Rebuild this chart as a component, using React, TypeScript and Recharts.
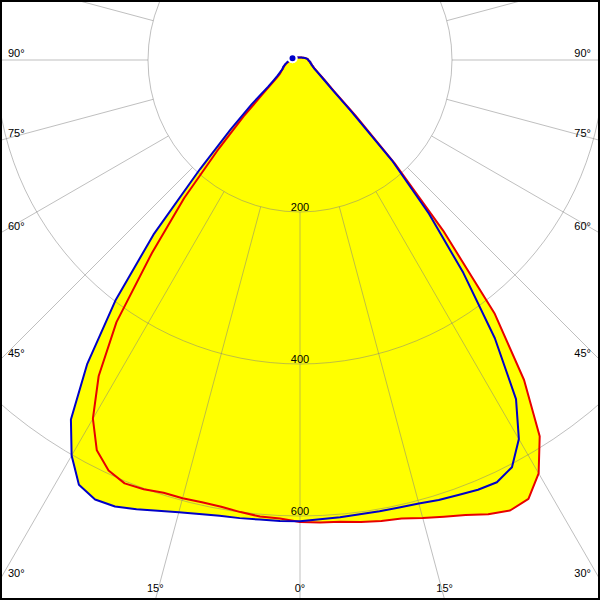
import { RadarChart, Radar, PolarGrid, PolarAngleAxis, PolarRadiusAxis } from 'recharts';

// angle from the downward vertical, read on each half of the diagram (0..180)
const sideAngles = [
	0, 2.5, 5, 7.5, 10, 12.5, 15, 17.5, 20, 22.5, 25, 27.5, 30, 32.5, 35, 37.5, 40, 42.5, 45, 47.5,
	50, 52.5, 55, 57.5, 60, 62.5, 65, 67.5, 70, 72.5, 75, 77.5, 80, 82.5, 85, 87.5, 90,
	92.5, 95, 97.5, 100, 102.5, 105, 107.5, 110, 112.5, 115, 117.5, 120, 122.5, 125, 127.5, 130, 132.5,
	135, 137.5, 140, 142.5, 145, 147.5, 150, 152.5, 155, 157.5, 160, 162.5, 165, 167.5, 170, 172.5,
	175, 177.5, 180,
];

// candela values, 0..90 degrees
const blueLeftLow = [
	607, 607, 607, 608, 609, 612, 616, 622, 629, 636, 638, 630, 601, 561, 488, 399, 300, 195, 129, 86,
	55, 43, 36, 32, 29, 26, 25, 24, 22, 21, 20, 18, 17, 16, 14, 14, 13,
];
const blueRightLow = [
	607, 605, 604, 603, 603, 603, 604, 607, 609, 612, 613, 604, 576, 529, 447, 353, 264, 179, 95, 58,
	43, 34, 28, 24, 21, 19, 18, 16, 16, 15, 14, 14, 13, 13, 12, 11, 11,
];
const redLeftLow = [
	608, 604, 603, 600, 597, 596, 597, 597, 601, 603, 596, 579, 545, 493, 421, 320, 237, 158, 105, 68,
	49, 39, 33, 30, 28, 26, 24, 23, 22, 20, 19, 18, 16, 15, 14, 14, 13,
];
const redRightLow = [
	608, 609, 610, 613, 616, 618, 624, 630, 637, 647, 654, 651, 628, 587, 514, 421, 293, 184, 103, 61,
	45, 36, 29, 25, 22, 20, 18, 17, 16, 15, 14, 14, 13, 12, 12, 11, 11,
];
// the small rounded tip above the horizontal, 92.5..180 degrees
const tipLeft = [
	13, 12.5, 11.7, 10.9, 10.1, 9.3, 8.6, 7.9, 7.4, 6.9, 6.4, 6.0, 5.7, 5.4, 5.1, 4.9, 4.7, 4.5,
	4.4, 4.2, 4.1, 4.0, 3.9, 3.8, 3.7, 3.6, 3.6, 3.5, 3.5, 3.4, 3.4, 3.4, 3.3, 3.3, 3.3, 3.3,
];
const tipRight = [
	10.8, 10.4, 9.9, 9.4, 8.8, 8.3, 7.8, 7.3, 6.9, 6.5, 6.1, 5.8, 5.5, 5.2, 5.0, 4.8, 4.6, 4.4,
	4.3, 4.1, 4.0, 3.9, 3.8, 3.7, 3.6, 3.6, 3.5, 3.5, 3.4, 3.4, 3.4, 3.3, 3.3, 3.3, 3.3, 3.3,
];

const radiusTicks = [200, 400, 600];
const angleLabels = [0, 15, 30, 45, 60, 75, 90];
const gridAngles = [0, 15, 30, 45, 60, 75, 90, 105, 120, 135, 150, 165, 180, 195, 210, 225, 240, 255, 270, 285, 300, 315, 330, 345];

const W = 600;
const H = 600;
const CX = 300;
const CY = 60;
const MAX_VALUE = 800;
const OUTER = 608;
const PX = OUTER / MAX_VALUE;
const FONT = '"Liberation Sans", Arial, sans-serif';

const blueLeft = [...blueLeftLow, ...tipLeft];
const blueRight = [...blueRightLow, ...tipRight];
const redLeft = [...redLeftLow, ...tipLeft];
const redRight = [...redRightLow, ...tipRight];

// gamma runs clockwise from the bottom: left half 0..180, right half 182.5..357.5
const data = [
	...sideAngles.map((a, i) => ({ angle: a, yellow: blueLeft[i], red: redLeft[i], blue: blueLeft[i] })),
	...sideAngles
		.map((a, i) => ({ angle: 360 - a, yellow: redRight[i], red: redRight[i], blue: blueRight[i] }))
		.slice(1, -1)
		.reverse(),
];

const chartProps = {
	width: W,
	height: H,
	data,
	cx: CX,
	cy: CY,
	startAngle: -90,
	endAngle: -450,
	margin: { top: 0, right: 0, bottom: 0, left: 0 },
};

function AngleTick(props: any) {
	const g = Number(props.payload?.value);
	const theta = g <= 180 ? g : 360 - g;
	if (!angleLabels.includes(theta)) return null;
	const side = g <= 180 ? -1 : 1;
	const rad = (theta * Math.PI) / 180;
	const s = Math.sin(rad);
	const c = Math.cos(rad);
	const toSide = s > 1e-6 ? CX / s : Infinity;
	const toBottom = c > 1e-6 ? (H - CY) / c : Infinity;
	let x: number;
	let y: number;
	let anchor: 'start' | 'end' | 'middle';
	if (toSide < toBottom) {
		x = side < 0 ? 8 : W - 9;
		y = CY + toSide * c - 3;
		anchor = side < 0 ? 'start' : 'end';
	} else {
		x = CX + side * toBottom * s;
		y = H - 8;
		anchor = 'middle';
	}
	return (
		<text x={x} y={y} textAnchor={anchor} fontSize={11} fontFamily={FONT} fill="#000">
			{theta}°
		</text>
	);
}

function RadiusTick(props: any) {
	const v = props.payload?.value;
	if (!radiusTicks.includes(v)) return null;
	return (
		<text x={props.x} y={props.y - 1} textAnchor="middle" fontSize={11} fontFamily={FONT} fill="#000">
			{v}
		</text>
	);
}

export default function App() {
	return (
		<div style={styles.page}>
			<div style={styles.layer}>
				<RadarChart {...chartProps} outerRadius={OUTER}>
					<PolarAngleAxis dataKey="angle" tick={false} axisLine={false} />
					<PolarRadiusAxis type="number" domain={[0, MAX_VALUE]} tick={false} axisLine={false} />
					<Radar dataKey="yellow" fill="#ffff00" fillOpacity={1} stroke="none" isAnimationActive={false} />
				</RadarChart>
			</div>
			<div style={styles.layer}>
				<RadarChart {...chartProps} innerRadius={radiusTicks[0] * PX} outerRadius={700}>
					<PolarGrid
						gridType="circle"
						polarAngles={gridAngles.map((g) => -90 - g)}
						polarRadius={radiusTicks.map((v) => v * PX)}
						stroke="#808080"
						strokeOpacity={0.5}
					/>
				</RadarChart>
			</div>
			<div style={styles.layer}>
				<RadarChart {...chartProps} outerRadius={OUTER}>
					<PolarAngleAxis dataKey="angle" tick={AngleTick} axisLine={false} tickLine={false} />
					<PolarRadiusAxis
						type="number"
						angle={-90}
						domain={[0, MAX_VALUE]}
						tickCount={5}
						tick={RadiusTick}
						axisLine={false}
					/>
					<Radar
						dataKey="red"
						fill="none"
						fillOpacity={0}
						stroke="#e80000"
						strokeWidth={2}
						strokeLinejoin="round"
						isAnimationActive={false}
					/>
					<Radar
						dataKey="blue"
						fill="none"
						fillOpacity={0}
						stroke="#0000c8"
						strokeWidth={2}
						strokeLinejoin="round"
						isAnimationActive={false}
					/>
				</RadarChart>
			</div>
			<div style={styles.frame} />
		</div>
	);
}

const styles: Record<string, React.CSSProperties> = {
	page: {
		position: 'absolute',
		left: 0,
		top: 0,
		width: W,
		height: H,
		background: '#fff',
		overflow: 'hidden',
	},
	layer: {
		position: 'absolute',
		left: 0,
		top: 0,
		width: W,
		height: H,
	},
	frame: {
		position: 'absolute',
		left: 0,
		top: 0,
		width: W,
		height: H,
		boxSizing: 'border-box',
		border: '2px solid #000',
		pointerEvents: 'none',
	},
};
